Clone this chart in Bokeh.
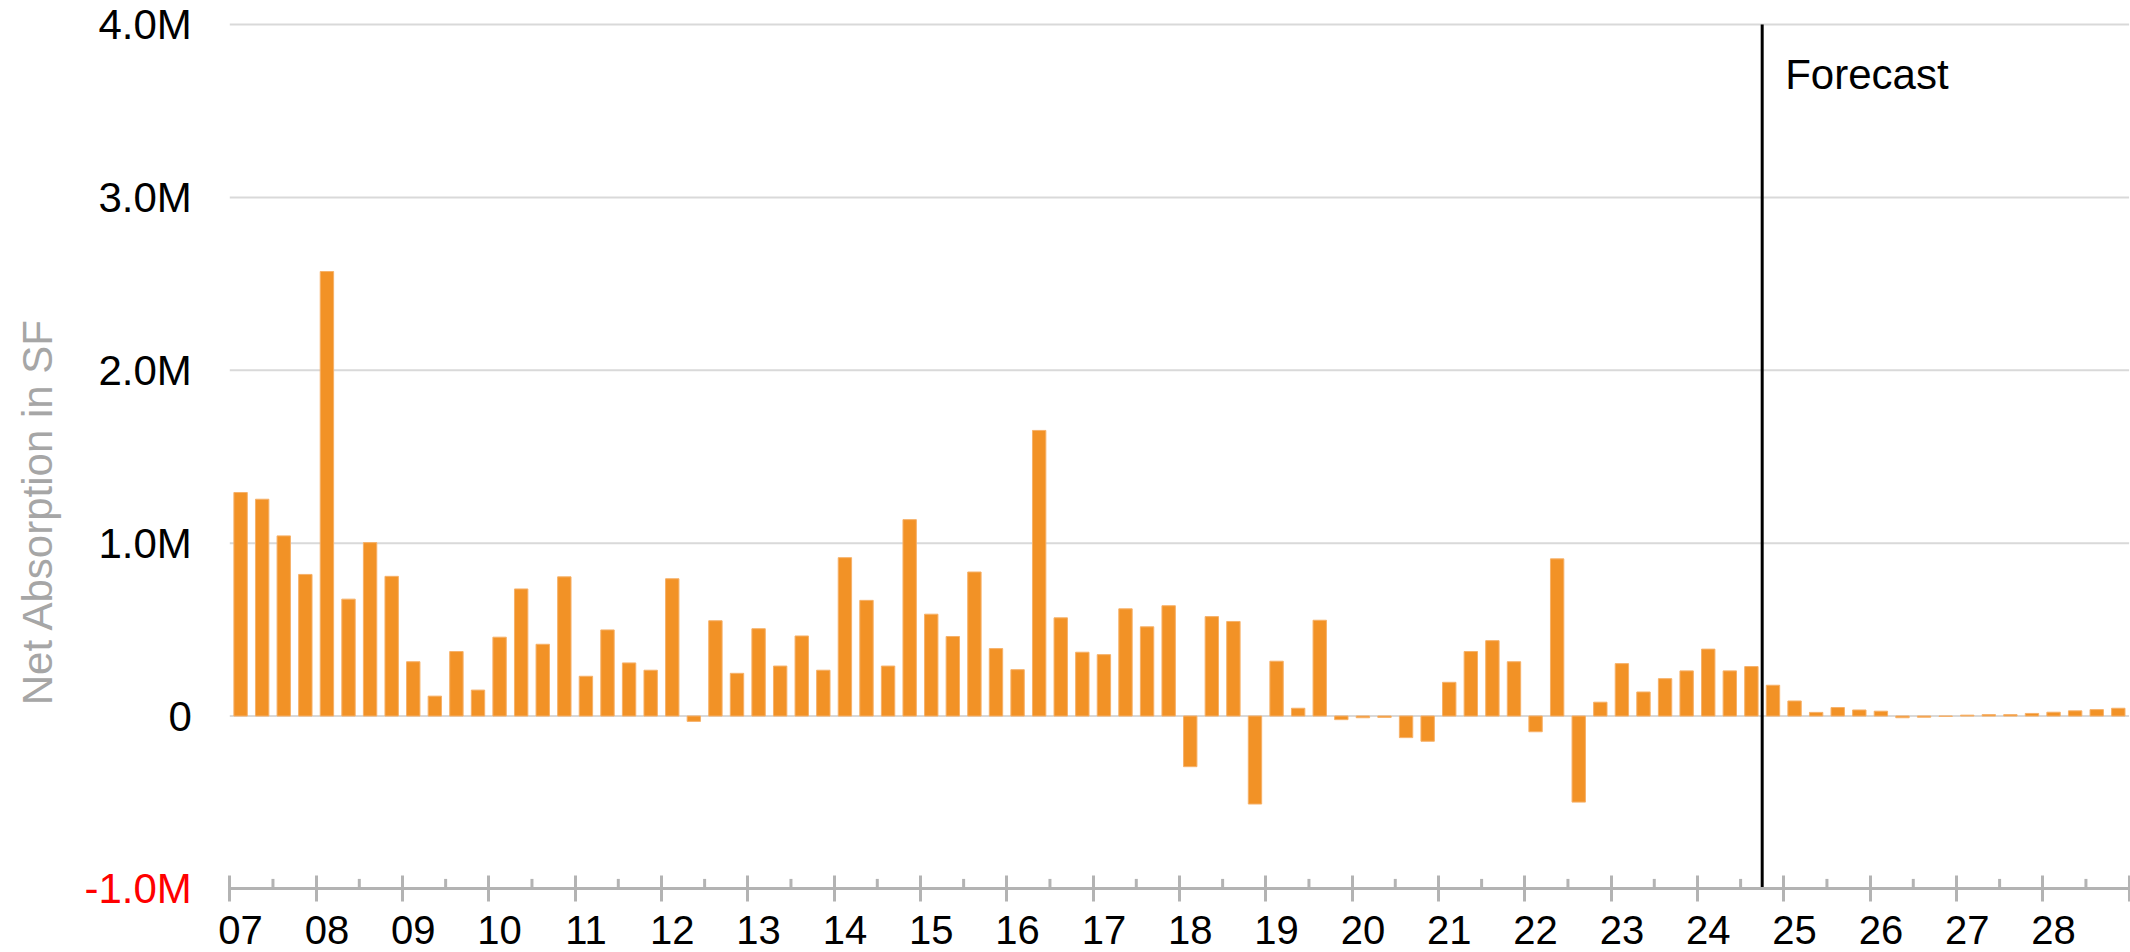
from math import pi
from bokeh.plotting import figure
from bokeh.models import ColumnDataSource, FixedTicker, Label, Range1d
from bokeh.core.properties import value
from bokeh.embed import file_html
from bokeh.resources import INLINE

# ---------------- data ----------------
years = list(range(2007, 2029))
quarters = [1, 2, 3, 4]
# Net absorption (SF), quarterly 2007 Q1 .. 2028 Q4
absorption = [
    1293000, 1254000, 1042000, 819000,     # 2007
    2571000, 676000, 1003000, 808000,      # 2008
    314000, 115000, 373000, 150000,        # 2009
    456000, 735000, 415000, 805000,        # 2010
    230000, 498000, 307000, 265000,        # 2011
    794000, -31000, 551000, 247000,        # 2012
    505000, 289000, 463000, 265000,        # 2013
    916000, 669000, 289000, 1136000,       # 2014
    589000, 460000, 833000, 390000,        # 2015
    268000, 1652000, 568000, 369000,       # 2016
    355000, 620000, 516000, 638000,        # 2017
    -293000, 575000, 547000, -509000,      # 2018
    317000, 45000, 554000, -21000,         # 2019
    -10000, -8000, -125000, -146000,       # 2020
    195000, 373000, 436000, 314000,        # 2021
    -91000, 909000, -498000, 80000,        # 2022
    303000, 139000, 216000, 261000,        # 2023
    387000, 261000, 286000, 178000,        # 2024
    87000, 21000, 49000, 35000,            # 2025
    28000, -10000, -7000, -2000,           # 2026
    5000, 8000, 8000, 15000,               # 2027
    22000, 30000, 37000, 45000,            # 2028
]
year_labels = [f"{y % 100:02d}" for y in years]
y_ticks = [-1000000, 0, 1000000, 2000000, 3000000, 4000000]
y_tick_labels = ["-1.0M", "0", "1.0M", "2.0M", "3.0M", "4.0M"]
forecast_start = (2024, 4)
y_title = "Net Absorption in SF"
forecast_text = "Forecast"

# ---------------- layout constants (pixels) ----------------
W, H = 2130, 952
PAD_LEFT = 229.3      # pixels left of the first quarter (tick labels, title)
PAD_RIGHT = 1.4
PAD_TOP = 24          # pixels above the 4.0M gridline
AXIS_Y = 888.4        # pixel row of the x axis line (-1.0M)
FONT = "Liberation Sans"
ORANGE = "#F29226"
ORANGE_EDGE = "#F6B169"
AXIS_GREY = "#b3b3b3"

# ---------------- build ----------------
n_q = len(years) * 4
qx = [(y - years[0]) * 4 + (q - 1) + 0.5 for y in years for q in quarters]
src = ColumnDataSource(dict(x=qx, top=absorption))

px_per_q = (W - PAD_LEFT - PAD_RIGHT) / n_q
px_per_unit = (AXIS_Y - PAD_TOP) / (y_ticks[-1] - y_ticks[0])
x_range = Range1d(-PAD_LEFT / px_per_q, n_q + PAD_RIGHT / px_per_q)
y_range = Range1d(y_ticks[0] - (H - AXIS_Y) / px_per_unit,
                  y_ticks[-1] + PAD_TOP / px_per_unit)

p = figure(width=W, height=H, output_backend="svg", toolbar_location=None,
           x_range=x_range, y_range=y_range, y_axis_location=None,
           min_border_left=0, min_border_right=0, min_border_top=0,
           min_border_bottom=0, outline_line_color=None)
p.grid.visible = False

# horizontal gridlines (0 .. 4.0M)
grid_vals = [t for t in y_ticks if t > y_ticks[0]]
p.segment(x0=[0] * len(grid_vals), x1=[n_q] * len(grid_vals),
          y0=grid_vals, y1=grid_vals, line_color="#d9d9d9", line_width=2)

# bars
p.vbar(x="x", top="top", bottom=0, width=0.62, source=src,
       fill_color=ORANGE, line_color=ORANGE_EDGE, line_width=1)

# y tick labels (negative value label in red)
label_colors = ["red" if t < 0 else "black" for t in y_ticks]
p.text(x=[0] * len(y_ticks), y=y_ticks, text=y_tick_labels, x_offset=-38,
       text_align="right", text_baseline="middle", text_font=value(FONT),
       text_font_size="42px", text_color=label_colors)

# y title
p.add_layout(Label(x=37, x_units="screen", y=H - 511, y_units="screen",
                   text=y_title, angle=pi / 2, text_align="center",
                   text_baseline="alphabetic", text_font=FONT,
                   text_font_size="42px", text_color="#a6a6a6"))

# x axis at -1.0M: line, year ticks (as minor ticks), year labels under Q1
xax = p.xaxis[0]
xax.fixed_location = y_ticks[0]
xax.bounds = (0, n_q)
xax.ticker = FixedTicker(ticks=[(y - years[0]) * 4 + 0.5 for y in years],
                         minor_ticks=list(range(0, n_q + 1, 4)))
xax.major_label_overrides = {float((y - years[0]) * 4 + 0.5): l
                             for y, l in zip(years, year_labels)}
xax.axis_line_color = AXIS_GREY
xax.axis_line_width = 3
xax.major_tick_line_color = None
xax.major_tick_in = 0
xax.major_tick_out = 0
xax.minor_tick_line_color = AXIS_GREY
xax.minor_tick_line_width = 3
xax.minor_tick_in = 13
xax.minor_tick_out = 13
xax.major_label_standoff = 14
xax.major_label_text_font = FONT
xax.major_label_text_font_size = "40px"
xax.major_label_text_color = "black"

# half-year ticks (inside only)
half_year = list(range(2, n_q, 4))
p.ray(x=half_year, y=[y_ticks[0]] * len(half_year), length=10,
      length_units="screen", angle=pi / 2, line_color=AXIS_GREY, line_width=3)

# forecast divider
fx = (forecast_start[0] - years[0]) * 4 + (forecast_start[1] - 1)
p.segment(x0=[fx], x1=[fx], y0=[y_ticks[0]], y1=[y_ticks[-1]],
          line_color="black", line_width=3)
p.add_layout(Label(x=fx, y=y_ticks[-1], x_offset=23, y_offset=-50,
                   text=forecast_text, text_baseline="alphabetic",
                   text_font=FONT, text_font_size="42px", text_color="black"))

open("out.html", "w").write(file_html(p, INLINE))
